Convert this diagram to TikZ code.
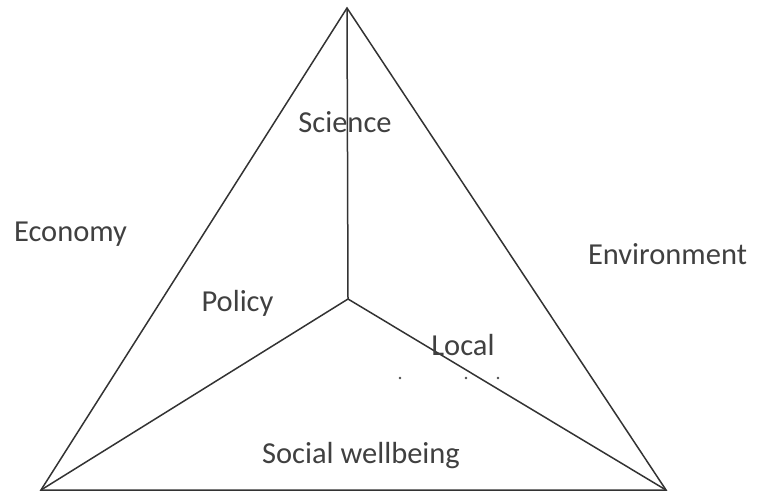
\documentclass[tikz,border=0pt]{standalone}
\usepackage{fontspec}
\setmainfont{Carlito}
\begin{document}
\begin{tikzpicture}[x=1pt,y=-1pt,
  edge/.style={draw=black!80, line width=1.5pt},
  lbl/.style={anchor=base, inner sep=0pt, text=black!75,
    font=\fontsize{30.5}{36}\selectfont},
  speck/.style={fill=black!70, draw=none}]
  \useasboundingbox (0,0) rectangle (759,494);

  % corners of the pyramid and its centre
  \coordinate (apex) at (347,8);
  \coordinate (bl) at (41,490);
  \coordinate (br) at (666,490);
  \coordinate (mid) at (348,299);

  % outer triangle
  \draw[edge, line join=miter] (apex) -- (bl) -- (br) -- cycle;
  % spokes from the centre
  \draw[edge] (mid) -- (apex);
  \draw[edge] (mid) -- (bl);
  \draw[edge] (mid) -- (br);

  % labels
  \node[lbl] (science) at (345,133) {Science};
  \node[lbl] (economy) at (70.5,241) {Economy};
  \node[lbl] (environment) at (667.5,264) {Environment};
  \node[lbl] (policy) at (237.5,311) {Policy};
  \node[lbl] (local) at (463,355) {Local};
  \node[lbl] (social) at (361,463) {Social wellbeing};

  % small specks below the right spoke
  \fill[speck] (400,378) circle (1.4);
  \fill[speck] (466,378) circle (1.4);
  \fill[speck] (498,378) circle (1.4);
\end{tikzpicture}
\end{document}
